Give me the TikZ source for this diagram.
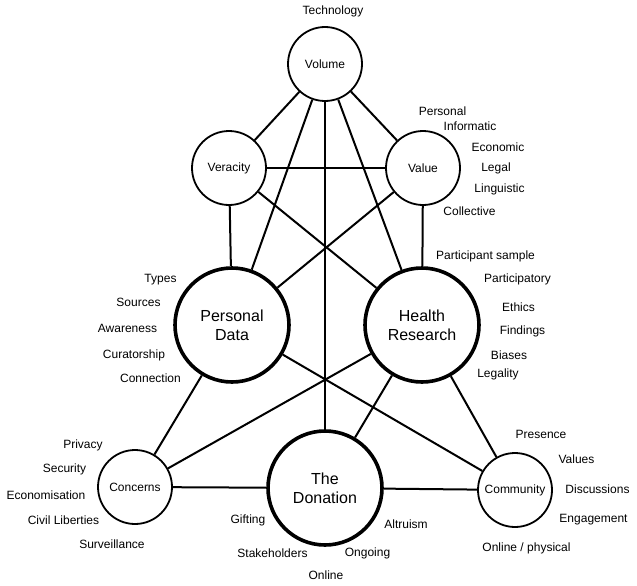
\documentclass[tikz,border=0pt]{standalone}
\usepackage{fontspec}
\setmainfont{Liberation Sans}
\begin{document}
\begin{tikzpicture}[x=1pt,y=-1pt,
  small/.style={circle,draw,line width=1.8pt,minimum size=74pt,inner sep=0pt,font=\fontsize{12}{14}\selectfont},
  big/.style={circle,draw,line width=3.6pt,minimum size=114pt,inner sep=0pt,align=center,font=\fontsize{16}{19}\selectfont},
  lab/.style={inner sep=0pt,font=\fontsize{12}{14}\selectfont},
  edge/.style={line width=2pt}]
\useasboundingbox[fill=white] (0,0) rectangle (637,586);
% nodes
\node[small] (vol) at (325,64) {Volume};
\node[small] (ver) at (229,168) {Veracity};
\node[small] (val) at (423,168) {Value};
\node[big] (pd) at (232,325) {Personal\\Data};
\node[big] (hr) at (422,325) {Health\\Research};
\node[big] (don) at (325,488) {The\\Donation};
\node[small] (con) at (135,487) {Concerns};
\node[small] (com) at (515,490) {Community};
% edges
\draw[edge] (vol) -- (ver);
\draw[edge] (vol) -- (val);
\draw[edge] (vol) -- (pd);
\draw[edge] (vol) -- (hr);
\draw[edge] (vol) -- (don);
\draw[edge] (ver) -- (val);
\draw[edge] (ver) -- (pd);
\draw[edge] (ver) -- (hr);
\draw[edge] (val) -- (pd);
\draw[edge] (val) -- (hr);
\draw[edge] (pd) -- (con);
\draw[edge] (pd) -- (com);
\draw[edge] (hr) -- (con);
\draw[edge] (hr) -- (com);
\draw[edge] (hr) -- (don);
\draw[edge] (don) -- (con);
\draw[edge] (don) -- (com);
% labels
\node[lab] (t1) at (333,11) {Technology};
\node[lab] (v1) at (442.5,111) {Personal};
\node[lab] (v2) at (470,126) {Informatic};
\node[lab] (v3) at (498,147) {Economic};
\node[lab] (v4) at (496,168) {Legal};
\node[lab] (v5) at (499.5,189) {Linguistic};
\node[lab] (v6) at (469.5,211) {Collective};
\node[lab] (h1) at (485.5,256) {Participant sample};
\node[lab] (h2) at (517.5,279) {Participatory};
\node[lab] (h3) at (518.5,307) {Ethics};
\node[lab] (h4) at (522.5,331) {Findings};
\node[lab] (h5) at (509,355) {Biases};
\node[lab] (h6) at (498,374) {Legality};
\node[lab] (p1) at (160.5,280) {Types};
\node[lab] (p2) at (138.5,302) {Sources};
\node[lab] (p3) at (127.5,328) {Awareness};
\node[lab] (p4) at (134,355) {Curatorship};
\node[lab] (p5) at (150.5,378) {Connection};
\node[lab] (c1) at (83,445) {Privacy};
\node[lab] (c2) at (64.5,469) {Security};
\node[lab] (c3) at (46,495) {Economisation};
\node[lab] (c4) at (63.5,520) {Civil Liberties};
\node[lab] (c5) at (112,544) {Surveillance};
\node[lab] (d1) at (248,520) {Gifting};
\node[lab] (d2) at (272.5,553) {Stakeholders};
\node[lab] (d3) at (326,575) {Online};
\node[lab] (d4) at (367.5,553) {Ongoing};
\node[lab] (d5) at (406,524) {Altruism};
\node[lab] (m1) at (541,434) {Presence};
\node[lab] (m2) at (576.5,459) {Values};
\node[lab] (m3) at (597.5,489) {Discussions};
\node[lab] (m4) at (593.5,520) {Engagement};
\node[lab] (m5) at (526.5,548) {Online / physical};
\end{tikzpicture}
\end{document}
